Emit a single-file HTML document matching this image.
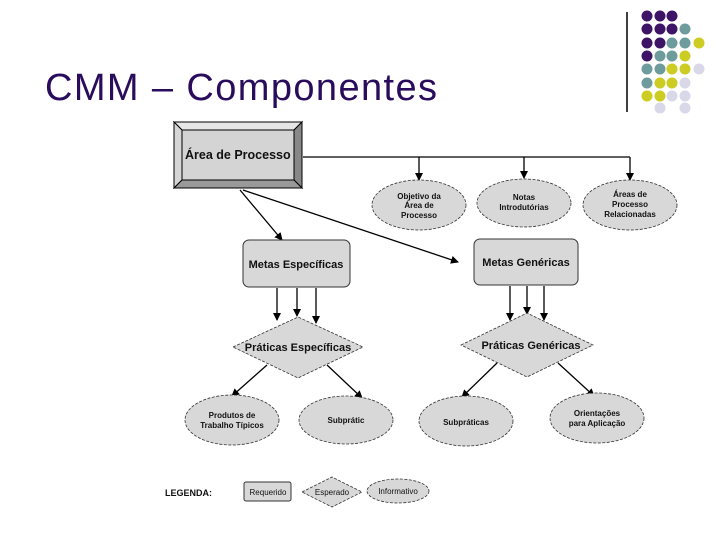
<!DOCTYPE html>
<html><head><meta charset="utf-8"><style>
body{margin:0;width:720px;height:540px;background:#fff;overflow:hidden}
svg{display:block}
text{font-family:"Liberation Sans",sans-serif;font-weight:bold;fill:#111}
</style></head><body>
<svg width="720" height="540" viewBox="0 0 720 540">
<defs><marker id="a" markerWidth="8" markerHeight="8" refX="7" refY="4" orient="auto" markerUnits="userSpaceOnUse"><path d="M0,0 L8,4 L0,8 z" fill="#000"/></marker></defs>
<text x="45" y="100" textLength="392" lengthAdjust="spacing" style="font-weight:normal;font-size:38px;fill:#2a0c5c">CMM – Componentes</text>
<line x1="627" y1="12" x2="627" y2="112" stroke="#000" stroke-width="1.5"/>
<g>
<circle cx="647" cy="16" r="5.5" fill="#3d1466"/><circle cx="660" cy="16" r="5.5" fill="#3d1466"/><circle cx="672" cy="16" r="5.5" fill="#3d1466"/>
<circle cx="647" cy="29" r="5.5" fill="#3d1466"/><circle cx="660" cy="29" r="5.5" fill="#3d1466"/><circle cx="672" cy="29" r="5.5" fill="#3d1466"/><circle cx="685" cy="29" r="5.5" fill="#6e9c9c"/>
<circle cx="647" cy="43" r="5.5" fill="#3d1466"/><circle cx="660" cy="43" r="5.5" fill="#3d1466"/><circle cx="672" cy="43" r="5.5" fill="#6e9c9c"/><circle cx="685" cy="43" r="5.5" fill="#6e9c9c"/><circle cx="699" cy="43" r="5.5" fill="#cccc22"/>
<circle cx="647" cy="56" r="5.5" fill="#3d1466"/><circle cx="660" cy="56" r="5.5" fill="#6e9c9c"/><circle cx="672" cy="56" r="5.5" fill="#6e9c9c"/><circle cx="685" cy="56" r="5.5" fill="#cccc22"/>
<circle cx="647" cy="69" r="5.5" fill="#6e9c9c"/><circle cx="660" cy="69" r="5.5" fill="#6e9c9c"/><circle cx="672" cy="69" r="5.5" fill="#cccc22"/><circle cx="685" cy="69" r="5.5" fill="#cccc22"/><circle cx="699" cy="69" r="5.5" fill="#d8d8e8"/>
<circle cx="647" cy="83" r="5.5" fill="#6e9c9c"/><circle cx="660" cy="83" r="5.5" fill="#cccc22"/><circle cx="672" cy="83" r="5.5" fill="#cccc22"/><circle cx="685" cy="83" r="5.5" fill="#d8d8e8"/>
<circle cx="647" cy="96" r="5.5" fill="#cccc22"/><circle cx="660" cy="96" r="5.5" fill="#cccc22"/><circle cx="672" cy="96" r="5.5" fill="#d8d8e8"/><circle cx="685" cy="96" r="5.5" fill="#d8d8e8"/>
<circle cx="660" cy="108" r="5.5" fill="#d8d8e8"/><circle cx="685" cy="108" r="5.5" fill="#d8d8e8"/>
</g>
<g stroke="#000" stroke-width="1">
<rect x="174" y="122" width="128" height="66" fill="#bbb"/>
<polygon points="174,122 302,122 294,130 182,130" fill="#e6e6e6"/>
<polygon points="174,122 182,130 182,180 174,188" fill="#d6d6d6"/>
<polygon points="302,122 294,130 294,180 302,188" fill="#888"/>
<polygon points="174,188 182,180 294,180 302,188" fill="#999"/>
<rect x="182" y="130" width="112" height="50" fill="#d4d4d4"/>
</g>
<text x="185" y="159" style="font-size:12.5px">Área de Processo</text>
<g stroke="#000" stroke-width="1.3" fill="none">
<polyline points="303,157 630,157"/>
<line x1="419" y1="157" x2="419" y2="180" marker-end="url(#a)"/>
<line x1="524" y1="157" x2="524" y2="178" marker-end="url(#a)"/>
<line x1="630" y1="157" x2="630" y2="180" marker-end="url(#a)"/>
<line x1="240" y1="190" x2="282" y2="240" marker-end="url(#a)"/>
<line x1="243" y1="190" x2="458" y2="262" marker-end="url(#a)"/>
<line x1="277" y1="288" x2="277" y2="320" marker-end="url(#a)"/>
<line x1="297" y1="288" x2="297" y2="316" marker-end="url(#a)"/>
<line x1="316" y1="288" x2="316" y2="323" marker-end="url(#a)"/>
<line x1="510" y1="286" x2="510" y2="320" marker-end="url(#a)"/>
<line x1="527" y1="286" x2="527" y2="314" marker-end="url(#a)"/>
<line x1="544" y1="286" x2="544" y2="320" marker-end="url(#a)"/>
<line x1="267" y1="365" x2="232" y2="396" marker-end="url(#a)"/>
<line x1="327" y1="365" x2="362" y2="398" marker-end="url(#a)"/>
<line x1="497" y1="363" x2="462" y2="397" marker-end="url(#a)"/>
<line x1="558" y1="363" x2="594" y2="396" marker-end="url(#a)"/>
</g>
<g fill="#d8d8d8" stroke="#333" stroke-width="0.8" stroke-dasharray="3,1.5">
<ellipse cx="419" cy="205" rx="47" ry="25"/>
<ellipse cx="524" cy="203" rx="47" ry="24"/>
<ellipse cx="630" cy="205" rx="47" ry="25"/>
<ellipse cx="232" cy="420" rx="47" ry="25"/>
<ellipse cx="346" cy="420" rx="47" ry="24"/>
<ellipse cx="466" cy="421" rx="47" ry="25"/>
<ellipse cx="597" cy="418" rx="47" ry="25"/>
<ellipse cx="398" cy="491" rx="31" ry="12"/>
<polygon points="233,347 298,317 363,347 298,378"/>
<polygon points="461,345 527,313 593,345 527,377"/>
<polygon points="302,492 332,477 362,492 332,507"/>
</g>
<g fill="#d8d8d8" stroke="#333" stroke-width="1">
<rect x="243" y="240" width="107" height="47" rx="6"/>
<rect x="474" y="239" width="104" height="46" rx="6"/>
<rect x="244" y="482" width="47" height="19" rx="2"/>
</g>
<g style="font-size:8px" text-anchor="middle">
<text x="419" y="199">Objetivo da</text><text x="419" y="208">Área de</text><text x="419" y="218">Processo</text>
<text x="524" y="200">Notas</text><text x="524" y="210">Introdutórias</text>
<text x="630" y="197">Áreas de</text><text x="630" y="207">Processo</text><text x="630" y="217">Relacionadas</text>
<text x="232" y="418">Produtos de</text><text x="232" y="428">Trabalho Típicos</text>
<text x="346" y="423">Subprátic</text>
<text x="466" y="425">Subpráticas</text>
<text x="597" y="416">Orientações</text><text x="597" y="426">para Aplicação</text>
</g>
<g style="font-size:11px" text-anchor="middle">
<text x="296" y="268">Metas Específicas</text>
<text x="526" y="266">Metas Genéricas</text>
<text x="298" y="351">Práticas Específicas</text>
<text x="531" y="349">Práticas Genéricas</text>
</g>
<text x="165" y="496" style="font-size:9px">LEGENDA:</text>
<g style="font-size:8px;font-weight:normal" text-anchor="middle">
<text x="268" y="495" style="font-weight:normal">Requerido</text>
<text x="332" y="495" style="font-weight:normal">Esperado</text>
<text x="398" y="494" style="font-weight:normal">Informativo</text>
</g>
</svg>
</body></html>
